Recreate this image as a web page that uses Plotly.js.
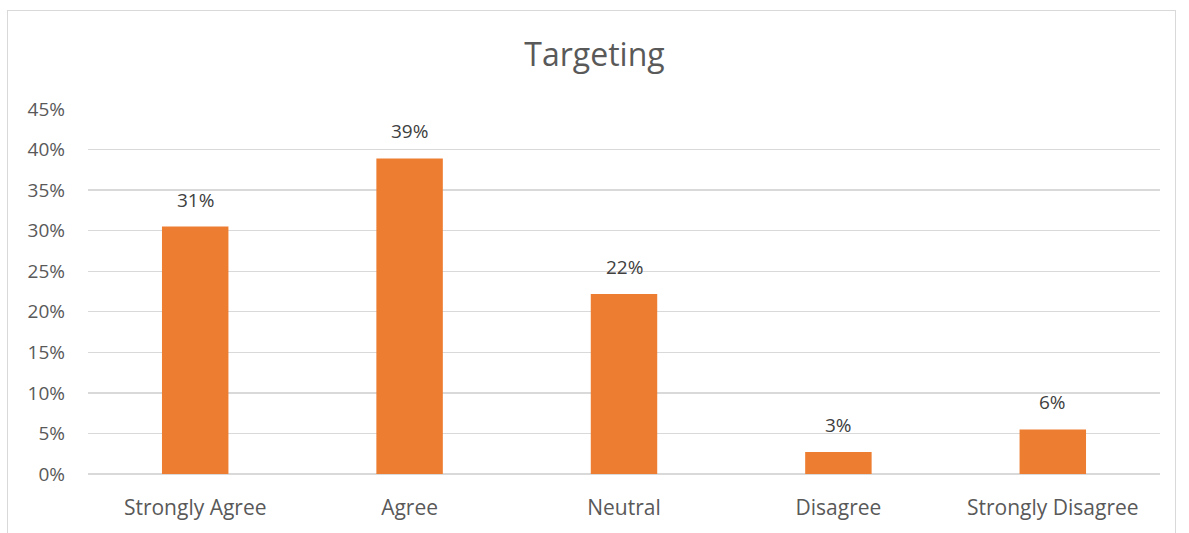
<!DOCTYPE html>
<html>
<head>
<meta charset="utf-8">
<script src="https://cdn.plot.ly/plotly-3.0.1.min.js"></script>
<style>
  html, body { margin: 0; padding: 0; background: #ffffff; }
  #wrap { position: relative; width: 1189px; height: 533px; overflow: hidden; }
  #frame { position: absolute; left: 7px; top: 10px; width: 1169px; height: 540px; border: 1px solid #d9d9d9; box-sizing: border-box; pointer-events: none; }
  #chart { position: absolute; left: 0; top: 0; width: 1189px; height: 533px; }
</style>
</head>
<body>
<div id="wrap">
  <div id="chart"></div>
  <div id="frame"></div>
</div>
<script>
const categories = ["Strongly Agree", "Agree", "Neutral", "Disagree", "Strongly Disagree"];
const values = [0.305, 0.389, 0.222, 0.027, 0.055];
const valueLabels = ["31%", "39%", "22%", "3%", "6%"];
const yTickVals = [0, 0.05, 0.10, 0.15, 0.20, 0.25, 0.30, 0.35, 0.40, 0.45];
const yTickText = ["0%", "5%", "10%", "15%", "20%", "25%", "30%", "35%", "40%", "45%"];

const FONT = "'Open Sans', Lato, sans-serif";

const trace = {
  type: "bar",
  x: categories,
  y: values,
  marker: { color: "#ed7d31" },
  hoverinfo: "skip"
};

const annotations = categories.map((c, i) => ({
  x: c, y: values[i], xref: "x", yref: "y",
  text: valueLabels[i], showarrow: false,
  yanchor: "bottom", yshift: 12,
  font: { family: FONT, size: 19, color: "#404040" }
}));

const layout = {
  width: 1189, height: 533,
  margin: { l: 88, r: 29, t: 109, b: 58.5, pad: 0 },
  paper_bgcolor: "rgba(0,0,0,0)",
  plot_bgcolor: "rgba(0,0,0,0)",
  showlegend: false,
  bargap: 0.69,
  title: {
    text: "Targeting",
    font: { family: FONT, size: 32, color: "#595959" },
    x: 0.5, xanchor: "center", y: 0.897, yanchor: "middle"
  },
  xaxis: {
    type: "category",
    showgrid: false,
    showline: false,
    zeroline: false,
    ticks: "",
    tickfont: { family: FONT, size: 21, color: "#595959" },
    ticklabelstandoff: 19
  },
  yaxis: {
    range: [0, 0.45],
    tickvals: yTickVals,
    ticktext: yTickText,
    showgrid: true,
    gridcolor: "#d9d9d9",
    gridwidth: 1.3,
    zeroline: true,
    zerolinecolor: "#d9d9d9",
    zerolinewidth: 1.3,
    showline: false,
    ticks: "",
    tickfont: { family: FONT, size: 19, color: "#595959" },
    ticklabelstandoff: 22
  },
  annotations: annotations
};

Plotly.newPlot("chart", [trace], layout, { displayModeBar: false, staticPlot: true });
</script>
</body>
</html>
